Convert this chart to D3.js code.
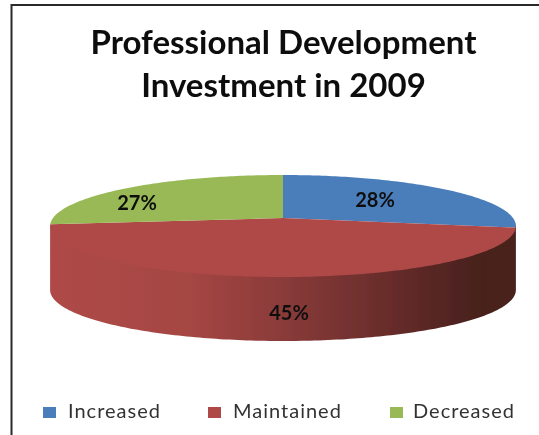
<!DOCTYPE html>
<html><head><meta charset="utf-8">
<script src="https://cdn.jsdelivr.net/npm/d3@7"></script>
<style>html,body{margin:0;padding:0;background:#fff}svg{display:block}text{font-family:Lato,sans-serif}</style>
</head><body><script>
const categories=["Increased","Maintained","Decreased"];
const values=[28,45,27];
const colors=["#4a7ebb","#ae4a47","#98b954"];
const titleLines=["Professional Development","Investment in 2009"];

const W=539,H=435,svg=d3.select("body").append("svg").attr("width",W).attr("height",H);
const defs=svg.append("defs");
defs.append("filter").attr("id","soft").append("feGaussianBlur").attr("stdDeviation",0.45);
const g=svg.append("g").attr("filter","url(#soft)");
g.append("path").attr("d","M11.5,445V5H550").attr("fill","none").attr("stroke","#2a2a2a").attr("stroke-width",2);

const cx=283,R=230,backY=175,apexY=218,frontY=277,depth=64;
const c=(2*apexY-backY-frontY)/(frontY-backY);
const a=apexY-backY+backY*c;
const project=(t,dy=0)=>{const u=Math.sin(t),v=-Math.cos(t),d=c*v+1;return [cx+R*u/d,(a*v+apexY)/d+dy];};
const sample=(t0,t1,dy=0,n=Math.max(2,Math.ceil(Math.abs(t1-t0)*60)))=>d3.range(n+1).map(i=>project(t0+(t1-t0)*i/n,dy));
const line=d3.line();

const pie=d3.pie().sort(null).value(d=>d)(values);
const grad=defs.append("linearGradient").attr("id","wall");
[[0,"#ae4a47"],[.3,"#a54643"],[.5,"#8a3b39"],[.75,"#642b29"],[.93,"#47201d"],[1,"#4a211e"]].forEach(s=>grad.append("stop").attr("offset",s[0]).attr("stop-color",s[1]));
const rimStart=Math.PI/2+0.16,rimEnd=3*Math.PI/2-0.16;
const wall=sample(rimStart,rimEnd,-3).concat(sample(rimEnd,rimStart,depth));
g.append("path").attr("d",line(wall)+"Z").attr("fill","url(#wall)");
g.selectAll("path.top").data(pie).join("path").attr("class","top")
 .attr("d",d=>line([[cx,apexY]].concat(sample(d.startAngle,d.endAngle)))+"Z")
 .attr("fill",(d,i)=>colors[i]);
const labelPos=[[375,200],[289,313],[137,203]];
g.selectAll("text.lab").data(values).join("text").attr("class","lab")
 .attr("x",(d,i)=>labelPos[i][0]).attr("y",(d,i)=>labelPos[i][1]).attr("text-anchor","middle").attr("dy","0.35em")
 .attr("font-size",20).attr("font-weight",700).attr("fill","#111").text(d=>d+"%");
g.selectAll("text.t").data(titleLines).join("text").attr("class","t")
 .attr("x",283.5).attr("y",(d,i)=>54+i*43).attr("text-anchor","middle")
 .attr("font-size",33).attr("font-weight",700).attr("fill","#111").text(d=>d);
const legendX=[43,208,390],textX=[68,233,413];
const lg=g.selectAll("g.l").data(categories).join("g").attr("class","l");
lg.append("rect").attr("x",(d,i)=>legendX[i]).attr("y",407).attr("width",13).attr("height",11).attr("fill",(d,i)=>colors[i]);
lg.append("text").attr("x",(d,i)=>textX[i]).attr("y",418).attr("font-size",20).attr("letter-spacing",1).attr("fill","#333").text(d=>d);
</script></body></html>
